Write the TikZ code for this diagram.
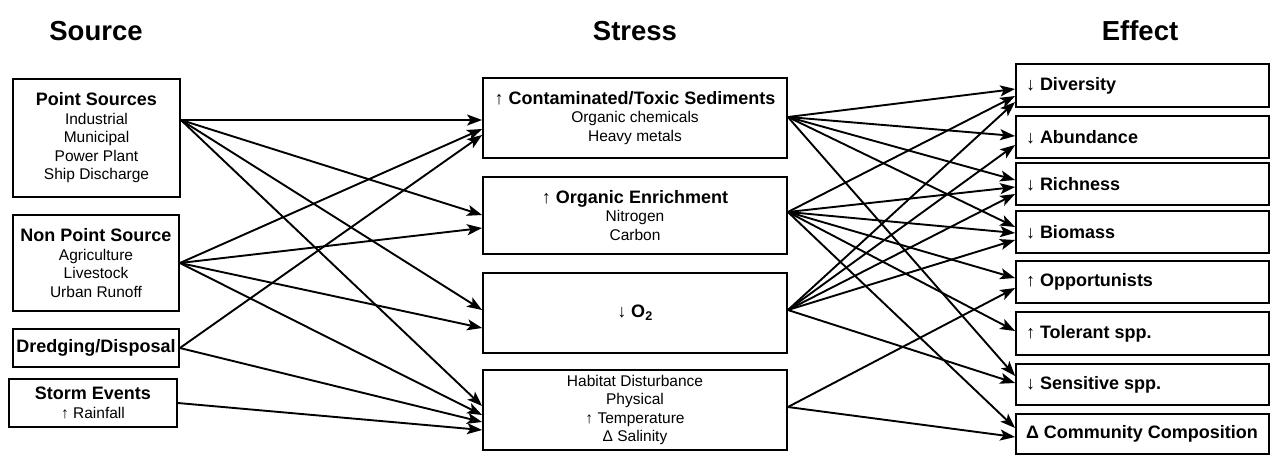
\documentclass[tikz,border=0pt]{standalone}
\usepackage{fontspec}
\setmainfont{Liberation Sans}
\usetikzlibrary{arrows.meta}
\newcommand{\hd}[1]{{\fontsize{18}{18.5}\selectfont\bfseries #1}}
\newcommand{\eff}[1]{\makebox[233pt][l]{#1}}
\begin{document}
\begin{tikzpicture}[x=1pt,y=-1pt,
  box/.style={draw, line width=1.8pt, inner sep=0pt, align=center,
    font=\fontsize{15.5}{18.5}\selectfont},
  effbox/.style={draw, line width=1.8pt, inner ysep=0pt, inner xsep=10pt,
    minimum width=253pt, font=\fontsize{18}{20}\selectfont\bfseries},
  title/.style={font=\fontsize{27.5}{30}\selectfont\bfseries},
  arr/.style={line width=1.9pt, -{Stealth[length=15pt,width=11pt,inset=3.5pt]}}
]
\useasboundingbox (0,0) rectangle (1273,456);

% titles
\node[title] (tsrc) at (96,31) {Source};
\node[title] (tstr) at (635,31) {Stress};
\node[title] (teff) at (1140,31) {Effect};

% sources
\node[box, minimum width=167pt, minimum height=118pt] (ps) at (96.5,138)
  {\hd{Point Sources}\\Industrial\\Municipal\\Power Plant\\Ship Discharge};
\node[box, minimum width=166pt, minimum height=96pt] (nps) at (96,263)
  {\hd{Non Point Source}\\Agriculture\\Livestock\\Urban Runoff};
\node[box, minimum width=166pt, minimum height=38pt] (dd) at (96,348)
  {\hd{Dredging/Disposal}};
\node[box, minimum width=168pt, minimum height=48pt] (se) at (93,403)
  {\hd{Storm Events}\\↑ Rainfall};

% stresses
\node[box, minimum width=304pt, minimum height=80pt] (cont) at (635,118)
  {\hd{↑ Contaminated/Toxic Sediments}\\Organic chemicals\\Heavy metals};
\node[box, minimum width=304pt, minimum height=77pt] (org) at (635,215.5)
  {\hd{↑ Organic Enrichment}\\Nitrogen\\Carbon};
\node[box, minimum width=304pt, minimum height=80pt] (oxy) at (635,313)
  {\hd{↓ O\textsubscript{2}}};
\node[box, minimum width=304pt, minimum height=80pt] (hab) at (635,410)
  {Habitat Disturbance\\Physical\\↑ Temperature\\Δ Salinity};

% effects
\node[effbox, minimum height=43pt] (div) at (1142.5,85.5) {\eff{↓ Diversity}};
\node[effbox, minimum height=42pt] (ab) at (1142.5,137) {\eff{↓ Abundance}};
\node[effbox, minimum height=42pt] (rich) at (1142.5,184) {\eff{↓ Richness}};
\node[effbox, minimum height=42pt] (bio) at (1142.5,232) {\eff{↓ Biomass}};
\node[effbox, minimum height=42pt] (opp) at (1142.5,282) {\eff{↑ Opportunists}};
\node[effbox, minimum height=43pt] (tol) at (1142.5,333.5) {\eff{↑ Tolerant spp.}};
\node[effbox, minimum height=41pt] (sens) at (1142.5,384.5) {\eff{↓ Sensitive spp.}};
\node[effbox, minimum height=40pt] (comm) at (1142.5,434) {\eff{Δ Community Composition}};

% source -> stress
\draw[arr] ([yshift=18pt]ps.east) -- ([yshift=-2pt]cont.west);
\draw[arr] ([yshift=18pt]ps.east) -- ([yshift=0.5pt]org.west);
\draw[arr] ([yshift=18pt]ps.east) -- ([yshift=3pt]oxy.west);
\draw[arr] ([yshift=18pt]ps.east) -- ([yshift=4pt]hab.west);
\draw[arr] (nps.east) -- ([yshift=-11pt]cont.west);
\draw[arr] (nps.east) -- ([yshift=-12.5pt]org.west);
\draw[arr] (nps.east) -- ([yshift=-15pt]oxy.west);
\draw[arr] (nps.east) -- ([yshift=-5pt]hab.west);
\draw[arr] (dd.east) -- ([yshift=-17pt]cont.west);
\draw[arr] (dd.east) -- ([yshift=-12pt]hab.west);
\draw[arr] (se.east) -- ([yshift=-20pt]hab.west);

% stress -> effect
\draw[arr] ([yshift=1pt]cont.east) -- ([yshift=-3.5pt]div.west);
\draw[arr] ([yshift=1pt]cont.east) -- ([yshift=1pt]ab.west);
\draw[arr] ([yshift=1pt]cont.east) -- ([yshift=4pt]rich.west);
\draw[arr] ([yshift=1pt]cont.east) -- ([yshift=5pt]bio.west);
\draw[arr] ([yshift=1pt]cont.east) -- ([yshift=8.5pt]sens.west);

\draw[arr] ([yshift=3.5pt]org.east) -- ([yshift=-10.5pt]div.west);
\draw[arr] ([yshift=3.5pt]org.east) -- ([yshift=-3pt]rich.west);
\draw[arr] ([yshift=3.5pt]org.east) -- ([yshift=-1pt]bio.west);
\draw[arr] ([yshift=3.5pt]org.east) -- ([yshift=4pt]opp.west);
\draw[arr] ([yshift=3.5pt]org.east) -- ([yshift=2.5pt]tol.west);
\draw[arr] ([yshift=3.5pt]org.east) -- ([yshift=6pt]comm.west);

\draw[arr] ([yshift=3pt]oxy.east) -- ([yshift=-16.5pt]div.west);
\draw[arr] ([yshift=3pt]oxy.east) -- ([yshift=-8pt]ab.west);
\draw[arr] ([yshift=3pt]oxy.east) -- ([yshift=-10pt]rich.west);
\draw[arr] ([yshift=3pt]oxy.east) -- ([yshift=-8pt]bio.west);
\draw[arr] ([yshift=3pt]oxy.east) -- ([yshift=1.5pt]sens.west);

\draw[arr] ([yshift=3pt]hab.east) -- ([yshift=-6pt]opp.west);
\draw[arr] ([yshift=3pt]hab.east) -- ([yshift=-3pt]comm.west);
\end{tikzpicture}
\end{document}
